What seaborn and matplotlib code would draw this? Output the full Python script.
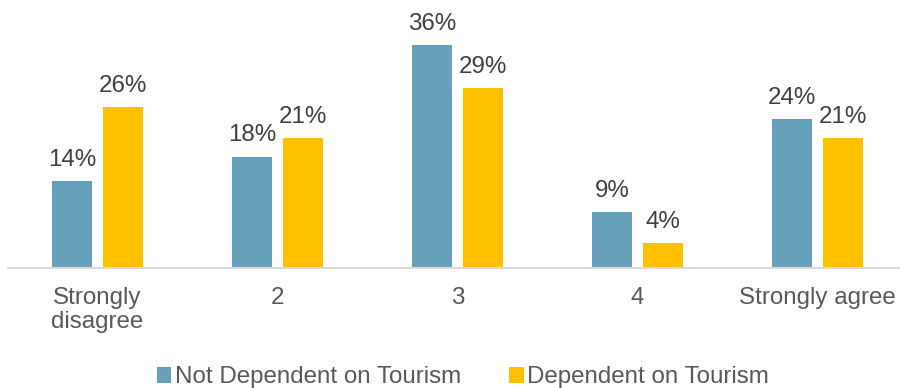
import matplotlib
matplotlib.use("Agg")
import matplotlib.pyplot as plt
import seaborn as sns
import pandas as pd

categories = ["Strongly\ndisagree", "2", "3", "4", "Strongly agree"]
not_dependent = [14, 18, 36, 9, 24]
dependent = [26, 21, 29, 4, 21]
series_names = ["Not Dependent on Tourism", "Dependent on Tourism"]
colors = ["#67A0BB", "#FFC000"]

df = pd.DataFrame({
    "category": categories * 2,
    "value": not_dependent + dependent,
    "series": [series_names[0]] * len(categories) + [series_names[1]] * len(categories),
})

sns.set_theme(style="white")
plt.rcParams["font.family"] = ["Liberation Sans", "DejaVu Sans"]

FS = 17.4
W, H = 900, 388
fig = plt.figure(figsize=(W / 100, H / 100), dpi=100)
ax = fig.add_axes([7.5 / W, 120 / H, 900 / W, 247.6 / H])

sns.barplot(data=df, x="category", y="value", hue="series", order=categories,
            hue_order=series_names, palette=colors, width=0.567, gap=0.216,
            linewidth=0, saturation=1, ax=ax)

for cont in ax.containers:
    ax.bar_label(cont, labels=[f"{v:.0f}%" for v in cont.datavalues],
                 padding=7.5, fontsize=FS, color="#404040")

ax.set_ylim(0, 40)
ax.set_xlim(-0.5, 4.5)
ax.set_xlabel("")
ax.set_ylabel("")
ax.set_yticks([])
for side in ["top", "right", "left"]:
    ax.spines[side].set_visible(False)
ax.spines["bottom"].set_color("#D9D9D9")
ax.spines["bottom"].set_linewidth(1.5)
ax.tick_params(axis="x", length=0, pad=13.5, labelsize=FS, labelcolor="#595959")
for lbl in ax.get_xticklabels():
    lbl.set_linespacing(1.15)

handles, labels = ax.get_legend_handles_labels()
ax.get_legend().remove()
fig.legend(handles, labels, loc="center", bbox_to_anchor=(463 / W, 10.5 / H),
           ncol=2, frameon=False, fontsize=FS, labelcolor="#595959",
           handlelength=0.6, handleheight=0.6, handletextpad=0.15,
           columnspacing=2.0, borderaxespad=0, borderpad=0)

fig.savefig("out.png", dpi=100)
